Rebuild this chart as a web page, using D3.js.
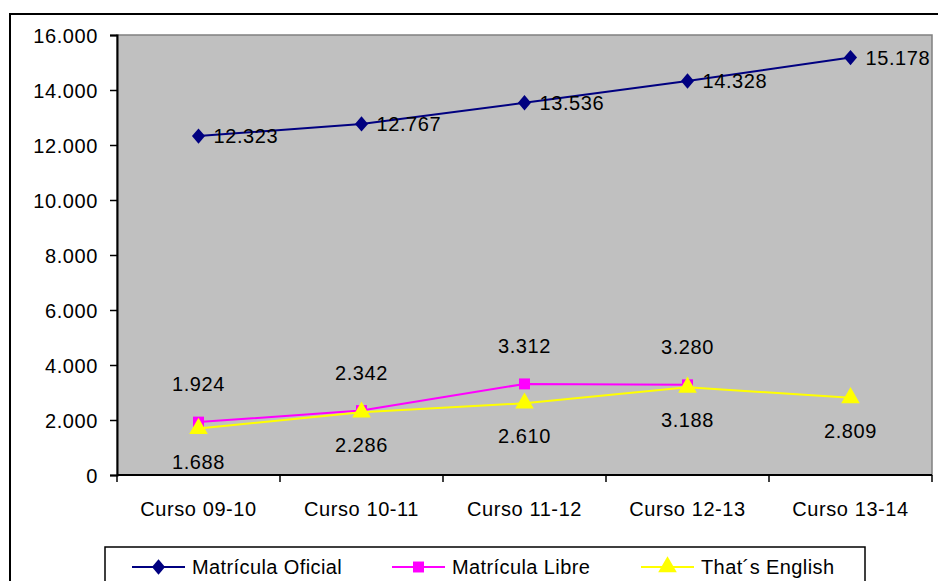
<!DOCTYPE html>
<html>
<head>
<meta charset="utf-8">
<script src="https://cdn.jsdelivr.net/npm/d3@7"></script>
<style>
  body { margin: 0; background: #fff; }
  svg { display: block; font-family: "Liberation Sans", Arial, sans-serif; }
</style>
</head>
<body>
<svg width="938" height="581"></svg>
<script>
// data
const cursos = ["Curso 09-10", "Curso 10-11", "Curso 11-12", "Curso 12-13", "Curso 13-14"];
const oficial = [12323, 12767, 13536, 14328, 15178];
const libre = [1924, 2342, 3312, 3280, null];
const english = [1688, 2286, 2610, 3188, 2809];
const yTicks = [0, 2000, 4000, 6000, 8000, 10000, 12000, 14000, 16000];
const seriesNames = ["Matrícula Oficial", "Matrícula Libre", "That´s English"];

const svg = d3.select("svg"),
    plot = {left: 117, right: 932, top: 35, bottom: 475};

const fs = 20, ls = 0.6;
const fmt = d => d3.format(",")(d).replace(/,/g, ".");

const x = d3.scaleBand()
    .domain(cursos)
    .range([plot.left, plot.right]);
const cx = c => x(c) + x.bandwidth() / 2;

const y = d3.scaleLinear()
    .domain([0, 16000])
    .range([plot.bottom, plot.top]);

// outer chart border
svg.append("rect")
    .attr("x", 10).attr("y", 14)
    .attr("width", 1000).attr("height", 700)
    .attr("fill", "none")
    .attr("stroke", "#000")
    .attr("stroke-width", 2);

// plot area
svg.append("rect")
    .attr("x", plot.left).attr("y", plot.top)
    .attr("width", plot.right - plot.left)
    .attr("height", plot.bottom - plot.top)
    .attr("fill", "#c0c0c0")
    .attr("stroke", "#808080")
    .attr("stroke-width", 1.5);

// y axis
const yAxis = svg.append("g")
    .attr("transform", "translate(" + plot.left + ",0)")
    .call(d3.axisLeft(y).tickValues(yTicks).tickFormat(fmt).tickSizeOuter(0).tickSize(7).tickPadding(12));
yAxis.select(".domain").attr("stroke-width", 2);
yAxis.selectAll(".tick line").attr("stroke-width", 1.5);
yAxis.selectAll("text")
    .attr("font-size", fs)
    .attr("font-family", "Liberation Sans, Arial, sans-serif")
    .attr("letter-spacing", ls)
    .attr("dy", "0.35em")
    .attr("fill", "#000");

// x axis
const xAxis = svg.append("g")
    .attr("transform", "translate(0," + plot.bottom + ")");
xAxis.append("line")
    .attr("x1", plot.left).attr("x2", plot.right)
    .attr("stroke", "#000").attr("stroke-width", 2);
xAxis.selectAll(".bt")
    .data(cursos.concat([null]))
    .join("line")
    .attr("class", "bt")
    .attr("x1", (d, i) => plot.left + i * x.step())
    .attr("x2", (d, i) => plot.left + i * x.step())
    .attr("y1", 0).attr("y2", 7)
    .attr("stroke", "#000").attr("stroke-width", 1.5);
xAxis.selectAll(".xl")
    .data(cursos)
    .join("text")
    .attr("class", "xl")
    .attr("x", d => cx(d))
    .attr("y", 41)
    .attr("text-anchor", "middle")
    .attr("font-size", fs)
    .attr("letter-spacing", ls)
    .text(d => d);

const line = d3.line()
    .defined(d => d.v != null)
    .x(d => cx(d.c))
    .y(d => y(d.v));

const toPts = arr => arr.map((v, i) => ({c: cursos[i], v: v}));

const colors = ["#000080", "#ff00ff", "#ffff00"];
const symbols = [d3.symbolDiamond, d3.symbolSquare, d3.symbolTriangle];
const symSize = [95, 120, 150];
const allSeries = [oficial, libre, english];

allSeries.forEach((arr, k) => {
  const pts = toPts(arr);
  svg.append("path")
      .datum(pts)
      .attr("fill", "none")
      .attr("stroke", colors[k])
      .attr("stroke-width", 2)
      .attr("d", line);
  svg.selectAll(".m" + k)
    .data(pts.filter(d => d.v != null))
    .join("path")
      .attr("class", "m" + k)
      .attr("transform", d => "translate(" + cx(d.c) + "," + y(d.v) + ")" + (k === 0 ? " scale(1.25,0.85)" : ""))
      .attr("d", d3.symbol().type(symbols[k]).size(symSize[k]))
      .attr("fill", colors[k]);
});

// data labels
const lab = svg.append("g")
    .attr("font-size", fs)
    .attr("letter-spacing", ls)
    .attr("fill", "#000");

lab.selectAll(".lo")
  .data(toPts(oficial))
  .join("text")
    .attr("x", d => cx(d.c) + 15)
    .attr("y", d => y(d.v) + 7)
    .text(d => fmt(d.v));

lab.selectAll(".ll")
  .data(toPts(libre).filter(d => d.v != null))
  .join("text")
    .attr("x", d => cx(d.c))
    .attr("y", d => y(d.v) - 31)
    .attr("text-anchor", "middle")
    .text(d => fmt(d.v));

lab.selectAll(".le")
  .data(toPts(english))
  .join("text")
    .attr("x", d => cx(d.c))
    .attr("y", d => y(d.v) + 40)
    .attr("text-anchor", "middle")
    .text(d => fmt(d.v));

// legend
const leg = svg.append("g");
leg.append("rect")
    .attr("x", 105).attr("y", 547)
    .attr("width", 760).attr("height", 60)
    .attr("fill", "#fff")
    .attr("stroke", "#000")
    .attr("stroke-width", 1.5);

const legX = [132, 392, 641];
const legW = [53, 53, 53];
seriesNames.forEach((name, k) => {
  const g = leg.append("g").attr("transform", "translate(" + legX[k] + ",567)");
  g.append("line")
      .attr("x1", 0).attr("x2", legW[k])
      .attr("stroke", colors[k]).attr("stroke-width", 2);
  g.append("path")
      .attr("transform", "translate(" + (legW[k] / 2) + ",0)" + (k === 0 ? " scale(1.25,0.85)" : ""))
      .attr("d", d3.symbol().type(symbols[k]).size(symSize[k]))
      .attr("fill", colors[k]);
  g.append("text")
      .attr("x", legW[k] + 7)
      .attr("y", 7)
      .attr("font-size", fs)
      .attr("letter-spacing", 0.4)
      .text(name);
});
</script>
</body>
</html>
